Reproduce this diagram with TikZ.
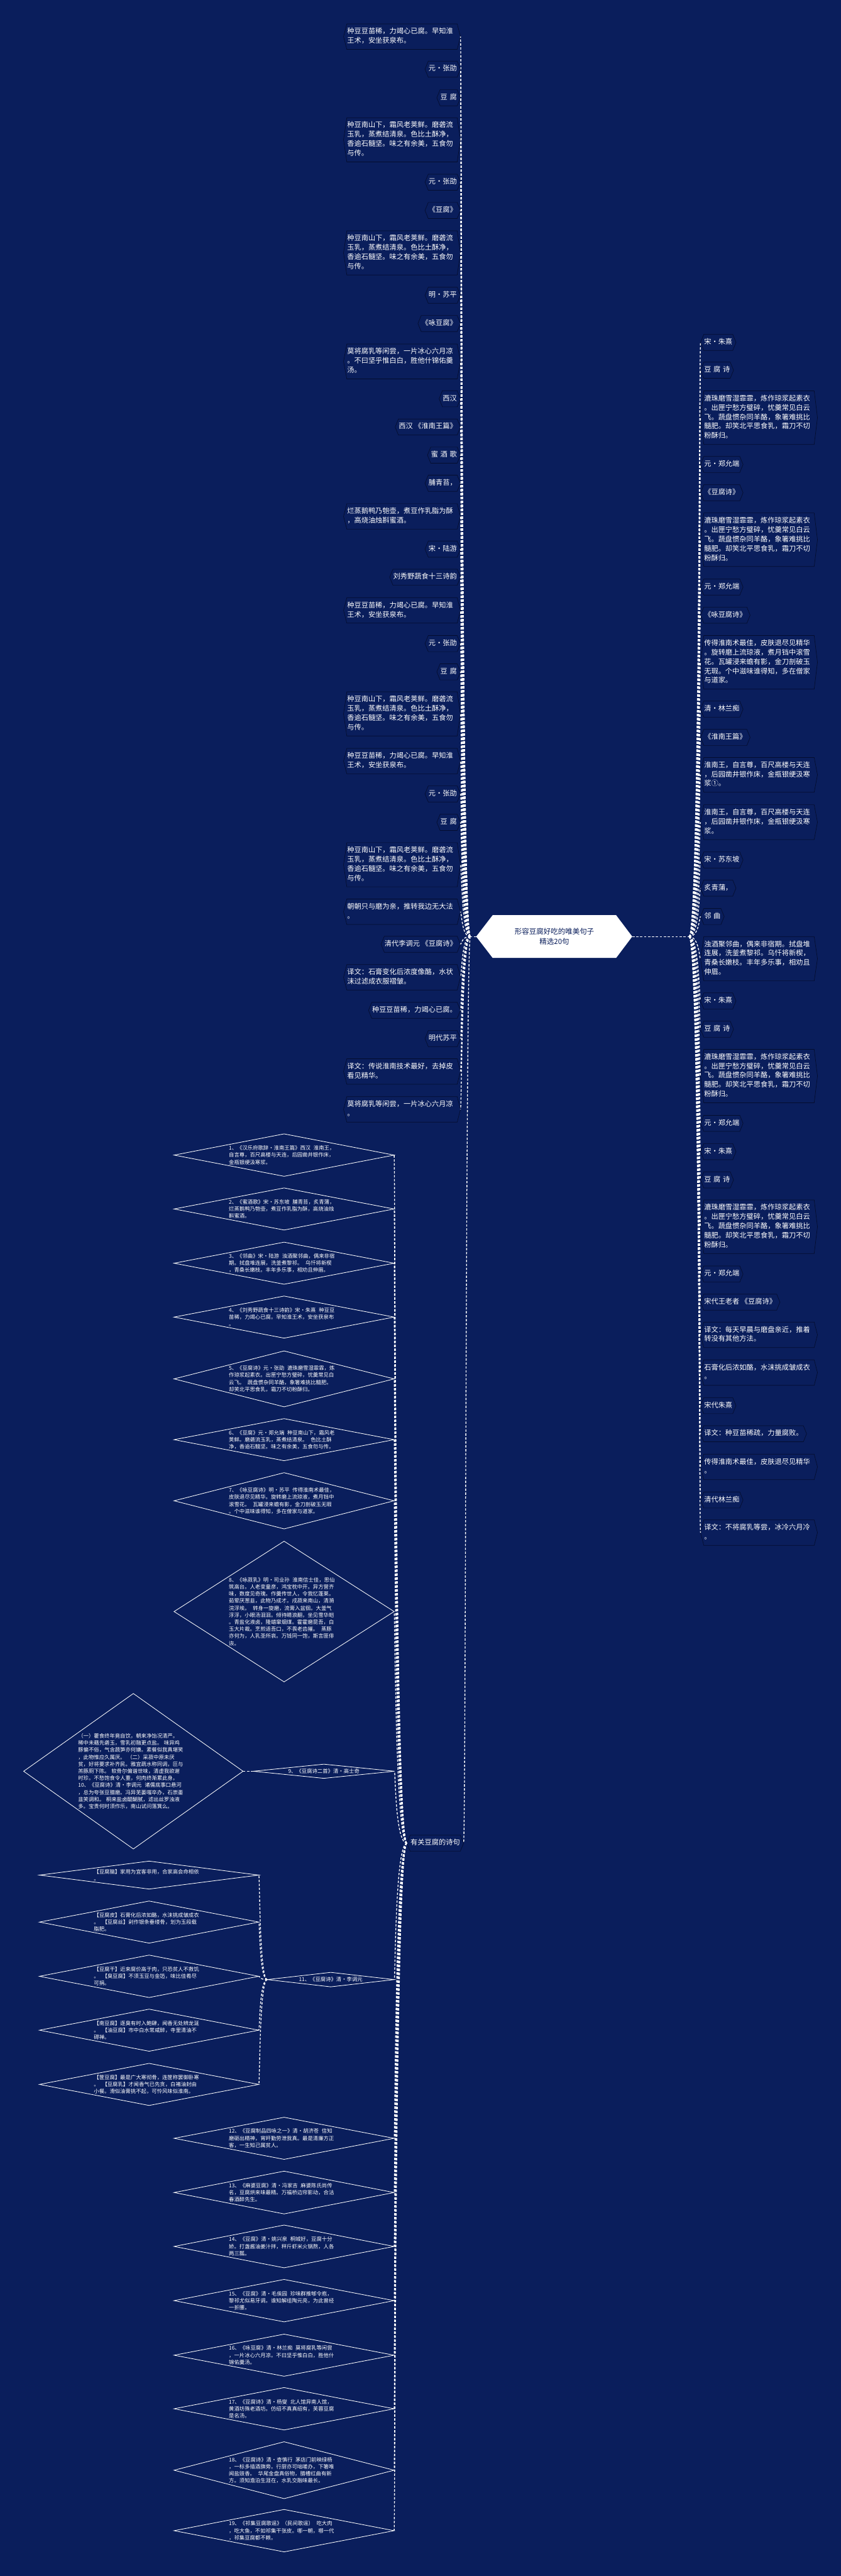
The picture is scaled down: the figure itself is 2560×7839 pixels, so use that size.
\documentclass[tikz,border=0pt]{standalone}
\usepackage{fontspec}
\setmainfont{Noto Sans CJK SC}
\usetikzlibrary{calc,shapes.geometric}
\definecolor{bgnavy}{RGB}{10,30,92}
\definecolor{edgenavy}{RGB}{4,13,46}
\newcommand\wsp{\hspace{7pt}}
\newcommand\dsp{\hspace{9pt}}
\newcommand\hexframe[1]{\draw[hexborder] (#1.north west) -- (#1.north east) -- ($(#1.east)+(10,0)$) coordinate (#1-e) -- (#1.south east) -- (#1.south west) -- ($(#1.west)+(-10,0)$) coordinate (#1-w) -- cycle;}
\newcommand\lnode[4][]{\node[colnode,anchor=east,#1] (#2) at (1392,#3) {#4};\hexframe{#2}}
\newcommand\rnode[4][]{\node[colnode,anchor=west,#1] (#2) at (2143,#3) {#4};\hexframe{#2}}
\newcommand\dnode[5]{\node[dia,minimum width=#4,minimum height=#5] (#1) at (#2,#3) {};}
\newcommand\ptA{种豆豆苗稀，力竭心已腐。早知淮\\王术，安坐获泉布。}
\newcommand\ptB{种豆南山下，霜风老荚鲜。磨砻流\\玉乳，蒸煮结清泉。色比土酥净，\\香逾石髓坚。味之有余美，五食勿\\与传。}
\newcommand\ptC{漉珠磨雪湿霏霏，炼作琼浆起素衣\\。出匣宁愁方璧碎，忧羹常见白云\\飞。蔬盘惯杂同羊酪，象箸难挑比\\髓肥。却笑北平思食乳，霜刀不切\\粉酥归。}
\begin{document}
\begin{tikzpicture}[x=1pt,y=-1pt,
  colnode/.style={inner xsep=1pt,inner ysep=10.25pt,outer sep=0pt,text=white,align=left,
    font=\fontsize{21.5}{28.5}\selectfont,execute at begin node=\strut,execute at end node=\strut},
  wide/.style={text width=334pt},
  hexborder/.style={draw=edgenavy,line width=1.3pt},
  conn/.style={draw=white,line width=2.6pt,dash pattern=on 7pt off 5pt},
  dia/.style={shape=diamond,draw=white,line width=1.6pt,inner sep=0pt,outer sep=0pt},
  dtext/.style={text=white,font=\fontsize{16}{21.5}\selectfont,align=left,text width=336pt,inner sep=0pt},
  dtextone/.style={text=white,font=\fontsize{16}{21.5}\selectfont,inner sep=0pt}]
\useasboundingbox (0,0) rectangle (2560,7839);
\fill[bgnavy] (0,0) rectangle (2560,7839);

% ---------- centre ----------
\fill[white] (1450,2850) coordinate (cw) -- (1500,2785) -- (1876,2785) -- (1925,2850) coordinate (ce) -- (1876,2915) -- (1500,2915) -- cycle;
\node[font=\fontsize{22}{30}\selectfont,text=bgnavy,align=center] (ctr) at (1688,2850) {形容豆腐好吃的唯美句子\\精选20句};
\coordinate (lhub) at (1432,2850);
\coordinate (rhub) at (2098,2850);

% ---------- left column ----------
\lnode[wide]{L1}{111.5}{\ptA}
\lnode{L2}{210.5}{元·张劭}
\lnode{L3}{297.5}{豆\wsp 腐}
\lnode[wide]{L4}{425.5}{\ptB}
\lnode{L5}{554.5}{元·张劭}
\lnode{L6}{640.5}{《豆腐》}
\lnode[wide]{L7}{769.5}{\ptB}
\lnode{L8}{898.5}{明·苏平}
\lnode{L9}{984.5}{《咏豆腐》}
\lnode[wide]{L10}{1100}{莫将腐乳等闲尝，一片冰心六月凉\\。不曰坚乎惟白白，胜他什锦佑羹\\汤。}
\lnode{L11}{1213.5}{西汉}
\lnode{L12}{1299.5}{西汉 《淮南王篇》}
\lnode{L13}{1385}{蜜\wsp 酒\wsp 歌}
\lnode{L14}{1470.5}{脯青苔，}
\lnode[wide]{L15}{1571.5}{烂蒸鹅鸭乃匏壶，煮豆作乳脂为酥\\，高烧油烛斟蜜酒。}
\lnode{L16}{1671}{宋·陆游}
\lnode{L17}{1756.5}{刘秀野蔬食十三诗韵}
\lnode[wide]{L18}{1857.5}{\ptA}
\lnode{L19}{1958.5}{元·张劭}
\lnode{L20}{2044.5}{豆\wsp 腐}
\lnode[wide]{L21}{2172.5}{\ptB}
\lnode[wide]{L22}{2316}{\ptA}
\lnode{L23}{2416}{元·张劭}
\lnode{L24}{2502.5}{豆\wsp 腐}
\lnode[wide]{L25}{2631.5}{\ptB}
\lnode[wide]{L26}{2774.5}{朝朝只与磨为亲，推转我边无大法\\。}
\lnode{L27}{2873.5}{清代李调元 《豆腐诗》}
\lnode[wide]{L28}{2974}{译文：石膏变化后浓度像酪，水状\\沫过滤成衣服褶皱。}
\lnode{L29}{3074.5}{种豆豆苗稀，力竭心已腐。}
\lnode{L30}{3160.5}{明代苏平}
\lnode[wide]{L31}{3260.5}{译文：传说淮南技术最好，去掉皮\\看见精华。}
\lnode[wide]{L32}{3376}{莫将腐乳等闲尝，一片冰心六月凉\\。}

% ---------- right column ----------
\rnode{R1}{1042}{宋·朱熹}
\rnode{R2}{1126.5}{豆\wsp 腐\wsp 诗}
\rnode[wide]{R3}{1271}{\ptC}
\rnode{R4}{1413.5}{元·郑允端}
\rnode{R5}{1499.5}{《豆腐诗》}
\rnode[wide]{R6}{1642.5}{\ptC}
\rnode{R7}{1786.5}{元·郑允端}
\rnode{R8}{1872}{《咏豆腐诗》}
\rnode[wide]{R9}{2015.5}{传得淮南术最佳，皮肤退尽见精华\\。旋转磨上流琼液，煮月铛中滚雪\\花。瓦罐浸来蟾有影，金刀剖破玉\\无瑕。个中滋味谁得知，多在僧家\\与道家。}
\rnode{R10}{2158}{清·林兰痴}
\rnode{R11}{2244}{《淮南王篇》}
\rnode[wide]{R12}{2358}{淮南王，自言尊，百尺高楼与天连\\，后园凿井银作床，金瓶银绠汲寒\\浆①。}
\rnode[wide]{R13}{2502}{淮南王，自言尊，百尺高楼与天连\\，后园凿井银作床，金瓶银绠汲寒\\浆。}
\rnode{R14}{2617}{宋·苏东坡}
\rnode{R15}{2702.5}{炙青蒲，}
\rnode{R16}{2789}{邻\wsp 曲}
\rnode[wide]{R17}{2917.5}{浊酒聚邻曲，偶来非宿期。拭盘堆\\连展，洗釜煮黎祁。乌忏将新楔，\\青桑长嫩枝。丰年多乐事，相劝且\\伸眉。}
\rnode{R18}{3046}{宋·朱熹}
\rnode{R19}{3132}{豆\wsp 腐\wsp 诗}
\rnode[wide]{R20}{3274.5}{\ptC}
\rnode{R21}{3418.5}{元·郑允端}
\rnode{R22}{3504.5}{宋·朱熹}
\rnode{R23}{3590.5}{豆\wsp 腐\wsp 诗}
\rnode[wide]{R24}{3733}{\ptC}
\rnode{R25}{3877}{元·郑允端}
\rnode{R26}{3962.5}{宋代王老者 《豆腐诗》}
\rnode[wide]{R27}{4062}{译文：每天早晨与磨盘亲近，推着\\转没有其他方法。}
\rnode[wide]{R28}{4177}{石膏化后浓如酪，水沫挑成皱成衣\\。}
\rnode{R29}{4277.5}{宋代朱熹}
\rnode{R30}{4363}{译文：种豆苗稀疏，力量腐败。}
\rnode[wide]{R31}{4464}{传得淮南术最佳，皮肤退尽见精华\\。}
\rnode{R32}{4564.5}{清代林兰痴}
\rnode[wide]{R33}{4664}{译文：不将腐乳等尝，冰冷六月冷\\。}

% ---------- branch node ----------
\node[colnode,anchor=west] (hy) at (1249,5609) {有关豆腐的诗句};
\hexframe{hy}

% ---------- connectors from centre ----------
\draw[conn] (cw) -- (lhub);
\draw[conn] (ce) -- (rhub);
\foreach \n in {1,...,32}
  \draw[conn] (lhub) .. controls (1405,2850) and ($(L\n-e)+(4,0)$) .. (L\n-e);
\foreach \n in {1,...,33}
  \draw[conn] (rhub) .. controls (2129,2850) and ($(R\n-w)+(-4,0)$) .. (R\n-w);
\draw[conn] (lhub) .. controls (1418,2850) and (1418,5609) .. (hy-e);

% ---------- diamonds ----------
\dnode{d1}{865}{3515}{670pt}{129pt}
\dnode{d2}{865}{3679}{670pt}{128pt}
\dnode{d3}{865}{3844}{670pt}{128pt}
\dnode{d4}{865}{4008}{670pt}{128pt}
\dnode{d5}{865}{4196}{670pt}{170pt}
\dnode{d6}{865}{4381}{670pt}{128pt}
\dnode{d7}{865}{4567}{670pt}{171pt}
\dnode{d8}{865}{4904}{670pt}{428pt}
\dnode{d9}{986}{5390}{430pt}{43pt}
\dnode{d10}{406}{5390}{668pt}{473pt}
\dnode{d11}{1007}{6024}{387pt}{44pt}
\dnode{c1}{454}{5706}{668pt}{85pt}
\dnode{c2}{454}{5849}{668pt}{128pt}
\dnode{c3}{454}{6014}{668pt}{129pt}
\dnode{c4}{454}{6178}{668pt}{128pt}
\dnode{c5}{454}{6343}{668pt}{128pt}
\dnode{d12}{865}{6507}{670pt}{128pt}
\dnode{d13}{865}{6672}{670pt}{130pt}
\dnode{d14}{865}{6836}{670pt}{130pt}
\dnode{d15}{865}{7001}{670pt}{129pt}
\dnode{d16}{865}{7167}{670pt}{128pt}
\dnode{d17}{865}{7330}{670pt}{129pt}
\dnode{d18}{865}{7517}{670pt}{173pt}
\dnode{d19}{865}{7701}{670pt}{129pt}

\node[dtext] (t1) at (d1) {1、《汉乐府歌辞·淮南王篇》西汉\dsp 淮南王，\\自言尊，百尺高楼与天连，后园凿井银作床，\\金瓶银绠汲寒浆。};
\node[dtext] (t2) at (d2) {2、《蜜酒歌》宋·苏东坡\dsp 脯青苔，炙青蒲，\\烂蒸鹅鸭乃匏壶，煮豆作乳脂为酥，高烧油烛\\斟蜜酒。};
\node[dtext] (t3) at (d3) {3、《邻曲》宋·陆游\dsp 浊酒聚邻曲，偶来非宿\\期。拭盘堆连展，洗釜煮黎祁。\dsp 乌忏将新楔\\，青桑长嫩枝。丰年多乐事，相劝且伸眉。};
\node[dtext] (t4) at (d4) {4、《刘秀野蔬食十三诗韵》宋·朱熹\dsp 种豆豆\\苗稀，力竭心已腐。早知淮王术，安坐获泉布\\。};
\node[dtext] (t5) at (d5) {5、《豆腐诗》元·张劭\dsp 漉珠磨雪湿霏霏，炼\\作琼浆起素衣。出匣宁愁方璧碎，忧羹常见白\\云飞。\dsp 蔬盘惯杂同羊酪，象箸难挑比髓肥。\\却笑北平思食乳，霜刀不切粉酥归。};
\node[dtext] (t6) at (d6) {6、《豆腐》元·郑允端\dsp 种豆南山下，霜风老\\荚鲜。磨砻流玉乳，蒸煮结清泉。\dsp 色比土酥\\净，香逾石髓坚。味之有余美，五食勿与传。};
\node[dtext] (t7) at (d7) {7、《咏豆腐诗》明·苏平\dsp 传得淮南术最佳，\\皮肤退尽见精华。旋转磨上流琼液，煮月铛中\\滚雪花。\dsp 瓦罐浸来蟾有影，金刀剖破玉无瑕\\。个中滋味谁得知，多在僧家与道家。};
\node[dtext] (t8) at (d8) {8、《咏菽乳》明·司业孙\dsp 淮南信士佳，思仙\\筑高台。人老变童彦，鸿宝枕中开。异方营齐\\味，数度见奇瑰。作羹传世人，令我忆蓬莱。\\茹荤厌葱韭，此物乃成才。戌菽来南山，清漪\\浣浮埃。\dsp 转身一旋磨，流膏入盆徊。大釜气\\浮浮，小眼汤洄洄。倾待睛浪翻，坐见雪华皑\\。青盐化液卤，隆蜡窜烟煤。霍霍磨昆吾，白\\玉大片裁。烹煎适吾口，不畏老齿摧。\dsp 蒸豚\\亦何为，人乳圣所哀。万钱同一饱，斯言匪俳\\诙。};
\node[dtextone] (t9) at (d9) {9、《豆腐诗二首》清·高士奇};
\node[dtext] (t10) at (d10) {（一）藿食终年竟自饮，朝来净饴况清严。\\稀中未藉先砻玉，雪乳初融更点盐。 味异鸡\\豚偏不俗，气含蔬笋亦何嫌。素餐似我真堪笑\\，此物惟应久属厌。 （二）采菽中原未厌\\贫，好将要求补齐民。雅宜蔬水称同调，叵与\\羔豚厕下陈。 软骨尔偏谐世味，清虚我欲谢\\时珍。不愁饱食令人重，何肉终渐累此身。\\10、《豆腐诗》清·李调元\dsp 诸儒底事口悬河\\，总为夸张豆腊磨。冯异芜蒌嗤卒办，石崇齑\\韭笑调和。 桐来盐卤醍醐腻，滤出丝罗浊液\\多。宝贵何时须作乐，南山试问落箕么。};
\node[dtextone] (t11) at (d11) {11、《豆腐诗》清·李调元};
\node[dtext] (ct1) at (c1) {【豆腐脑】家用为宜客非用，合家高会命相依\\。};
\node[dtext] (ct2) at (c2) {【豆腐皮】石膏化后浓如酪，水沫挑成皱成衣\\。\dsp 【豆腐丝】剁作银条垂缕骨，划为玉段载\\脂肥。};
\node[dtext] (ct3) at (c3) {【豆腐干】近来腐价高于肉，只恐贫人不救饥\\。\dsp 【臭豆腐】不须玉豆与金笾，味比佳肴尽\\可捐。};
\node[dtext] (ct4) at (c4) {【南豆腐】逐臭有时入鲍肆，闻香无处辨龙涎\\。\dsp 【油豆腐】市中白水常咸醉，寺里清油不\\碍禅。};
\node[dtext] (ct5) at (c5) {【筐豆腐】最是广大寒彻骨，连筐称罢御卧寒\\。\dsp 【豆腐乳】才闻香气已先贪，白褚油封由\\小餐。滑似油膏挑不起，可怜风味似淮南。};
\node[dtext] (t12) at (d12) {12、《豆腐制品四咏之一》清·胡济苍\dsp 信知\\磨砺出精神，宵旰勤劳泄我真。最是清廉方正\\客，一生知己属贫人。};
\node[dtext] (t13) at (d13) {13、《麻婆豆腐》清·冯家吉\dsp 麻婆陈氏尚传\\名，豆腐烘来味最精。万福桥边帘影动，合沽\\春酒醉先生。};
\node[dtext] (t14) at (d14) {14、《豆腐》清·姚兴泉\dsp 桐城好，豆腐十分\\娇。打盏酱油姜汁拌，秤斤虾米火锅熬，人各\\两三瓢。};
\node[dtext] (t15) at (d15) {15、《豆腐》清·毛俟园\dsp 珍味群推郇令庖，\\黎祁尤似易牙调。谁知解组陶元亮，为此曾经\\一折腰。};
\node[dtext] (t16) at (d16) {16、《咏豆腐》清·林兰痴\dsp 莫将腐乳等闲尝\\，一片冰心六月凉。不曰坚乎惟白白，胜他什\\锦佑羹汤。};
\node[dtext] (t17) at (d17) {17、《豆腐诗》清·杨燮\dsp 北人馆异南人馆，\\黄酒坊殊老酒坊。仿绍不真真绍有，芙蓉豆腐\\是名汤。};
\node[dtext] (t18) at (d18) {18、《豆腐诗》清·查慎行\dsp 茅店门前映绿杨\\，一标多插酒旗旁。行厨亦可咄嗟办，下箸唯\\闻盐豉香。\dsp 华尾金盘真俗物，腊槽红曲有新\\方。须知澹泊生涯在，水乳交融味最长。};
\node[dtext] (t19) at (d19) {19、《祁集豆腐歌谣》（民间歌谣）\dsp 吃大肉\\，吃大鱼，不如祁集干张皮。哪一朝，哪一代\\，祁集豆腐都不赖。};

% ---------- connectors of the branch ----------
\foreach \n in {1,...,9,11,12,13,14,15,16,17,18,19}
  \draw[conn] (hy-w) .. controls (1203,5609) and ($(d\n.east)+(3,0)$) .. (d\n.east);
\draw[conn] (d9.west) -- (d10.east);
\foreach \n in {1,...,5}
  \draw[conn] (d11.west) .. controls (790,6024) and ($(c\n.east)+(3,0)$) .. (c\n.east);
\end{tikzpicture}
\end{document}
